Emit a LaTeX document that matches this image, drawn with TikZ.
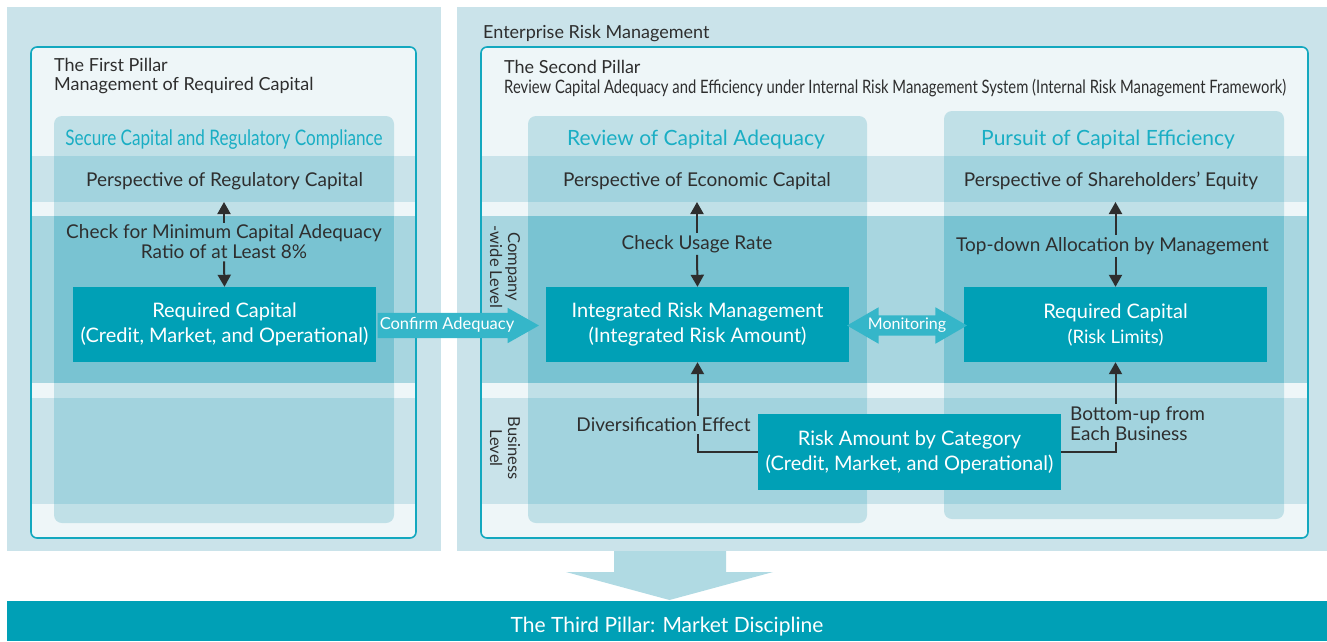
\documentclass[tikz,border=0pt]{standalone}
\usepackage{fontspec}
\setmainfont{Lato}
\newfontfamily\narrowfont[FakeStretch=0.8]{Lato}
\usetikzlibrary{arrows.meta,shapes.arrows,positioning}

\definecolor{panel}{HTML}{CAE3EA}
\definecolor{boxbg}{HTML}{EEF6F8}
\definecolor{boxline}{HTML}{13A8BF}
\definecolor{colbg}{HTML}{C0E0E7}
\definecolor{bandA}{HTML}{C9E3EA}
\definecolor{bandAin}{HTML}{A2D3DE}
\definecolor{bandB}{HTML}{A8D6E0}
\definecolor{bandBin}{HTML}{79C3D2}
\definecolor{dark}{HTML}{00A0B6}
\definecolor{headc}{HTML}{1AAEC4}
\definecolor{flow}{HTML}{35B6C9}
\definecolor{bigflow}{HTML}{B0DAE3}
\definecolor{ink}{HTML}{2E2E2E}

\begin{document}
\begin{tikzpicture}[x=1pt,y=-1pt,
  every node/.style={inner sep=2pt},
  txt/.style={text=ink,font=\fontsize{19}{20}\selectfont,align=center},
  title/.style={text=ink,font=\fontsize{18}{20}\selectfont,anchor=base west},
  head/.style={text=headc,font=\fontsize{21}{24}\selectfont,anchor=base},
  darkbox/.style={fill=dark,text=white,minimum width=303pt,minimum height=75pt,
    align=center,font=\fontsize{20}{25}\selectfont},
  arr/.style={draw=ink,line width=2pt,-{Triangle[width=13pt,length=12pt]}},
  link/.style={draw=ink,line width=2pt}]

\useasboundingbox (0,0) rectangle (1327,641);

% grey panels and the two pillar frames
\fill[panel] (7,7) rectangle (441,551);
\fill[panel] (457,7) rectangle (1327,551);
\fill[boxbg,rounded corners=6pt] (31,47) rectangle (416,538);
\fill[boxbg,rounded corners=6pt] (481,47) rectangle (1308,538);

% level bands
\foreach \ya/\yb/\co in {156/202/bandA, 216/383/bandB, 398/504/bandA}{
  \fill[\co] (31,\ya) rectangle (416,\yb);
  \fill[\co] (481,\ya) rectangle (1308,\yb);
}

% columns
\foreach \xa/\xb/\ya/\yb in {54/394/116/523, 528/867/116/523, 944/1284/111/519}{
  \fill[colbg,rounded corners=8pt] (\xa,\ya) rectangle (\xb,\yb);
  \fill[bandAin] (\xa,156) rectangle (\xb,202);
  \fill[bandBin] (\xa,216) rectangle (\xb,383);
  \fill[bandAin] (\xa,398) rectangle (\xb,504);
}

\draw[boxline,line width=1.6pt,rounded corners=6pt] (31,47) rectangle (416,538);
\draw[boxline,line width=1.6pt,rounded corners=6pt] (481,47) rectangle (1308,538);

\coordinate (rowA) at (0,202);

% titles
\node[title] (erm) at (481,38.3) {Enterprise Risk Management};
\node[title] (pillarI) at (52,71.7) {The First Pillar};
\node[title] (pillarIsub) at (52,90.7) {Management of Required Capital};
\node[title] (pillarII) at (502,73.7) {The Second Pillar};
\node[title,font=\narrowfont\fontsize{18.5}{20}\selectfont] (pillarIIsub) at (502,93) {Review Capital Adequacy and Efficiency under Internal Risk Management System (Internal Risk Management Framework)};

% column headings and perspectives
\node[head,font=\narrowfont\fontsize{21.4}{24}\selectfont] (headL) at (224,145.7) {Secure Capital and Regulatory Compliance};
\node[head] (headM) at (696,145.6) {Review of Capital Adequacy};
\node[head] (headR) at (1108,145.6) {Pursuit of Capital Efficiency};

\node[txt,anchor=base] (perspL) at (224.5,186.7) {Perspective of Regulatory Capital};
\node[txt,anchor=base] (perspM) at (697,186.7) {Perspective of Economic Capital};
\node[txt,anchor=base] (perspR) at (1111,186.7) {Perspective of Shareholders’ Equity};

% level labels
\node[txt,rotate=-90,font=\fontsize{16.5}{18}\selectfont] (compwide) at (505,267) {Company\\-wide Level};
\node[txt,rotate=-90,font=\fontsize{16.5}{18}\selectfont] (bizlevel) at (505,448) {Business\\Level};

% boxes
\node[darkbox] (reqL) at (224.5,324.5) {Required Capital\\(Credit, Market, and Operational)};
\node[darkbox] (irm) at (697.5,324.5) {Integrated Risk Management\\(Integrated Risk Amount)};
\node[darkbox] (reqR) at (1115.5,324.5) {Required Capital\\{\fontsize{18.5}{20}\selectfont(Risk Limits)}};
\node[darkbox,minimum height=76pt] (riskcat) at (909.5,452) {Risk Amount by Category\\(Credit, Market, and Operational)};

% labels on the connectors
\node[txt] (checkL) at (224,242) {Check for Minimum Capital Adequacy\\Ratio of at Least 8\%};
\node[txt] (usageM) at (697,244) {Check Usage Rate};
\node[txt] (allocR) at (1112.5,246) {Top-down Allocation by Management};
\node[txt,anchor=base] (divers) at (663.5,431.7) {Diversification Effect};
\node[txt,align=left,anchor=north west] (bottomup) at (1068,404) {Bottom-up from\\Each Business};

\draw[arr] (checkL.north) -- (checkL.north |- rowA);
\draw[arr] (checkL.south) -- (reqL.north);
\draw[arr] (usageM.north) -- (usageM.north |- rowA);
\draw[arr] (usageM.south) -- (irm.north);
\draw[arr] (allocR.north -| reqR) -- (reqR |- rowA);
\draw[arr] (allocR.south -| reqR) -- (reqR.north);

\draw[arr] (divers.north -| irm) -- (irm.south);
\draw[link] (divers.south -| irm) |- (riskcat.west);
\draw[arr] (bottomup.north -| reqR) -- (reqR.south);
\draw[link] (bottomup.south -| reqR) |- (riskcat.east);

% flows between the pillars
\node[single arrow,fill=flow,text=white,font=\fontsize{16.5}{18}\selectfont,
  minimum height=158pt,single arrow head extend=5pt,single arrow tip angle=59,
  text height=12pt,text depth=4pt,inner ysep=4.5pt] (confirm) at (447,325.5) {Confirm Adequacy};
\node[double arrow,fill=flow,text=white,font=\fontsize{16}{18}\selectfont,
  minimum height=120pt,double arrow head extend=8pt,double arrow tip angle=60,
  text height=11pt,text depth=4pt,inner ysep=2.5pt] (monitor) at (907,325.5) {Monitoring};

% third pillar
\fill[bigflow] (614,551) -- (726,551) -- (726,572) -- (773,572) -- (669.5,600) -- (566,572) -- (614,572) -- cycle;
\node[fill=dark,text=white,minimum width=1320pt,minimum height=40pt,
  font=\fontsize{21}{24}\selectfont,text height=22pt,text depth=0pt] (market) at (667,621) {The Third Pillar: Market Discipline};

\end{tikzpicture}
\end{document}
